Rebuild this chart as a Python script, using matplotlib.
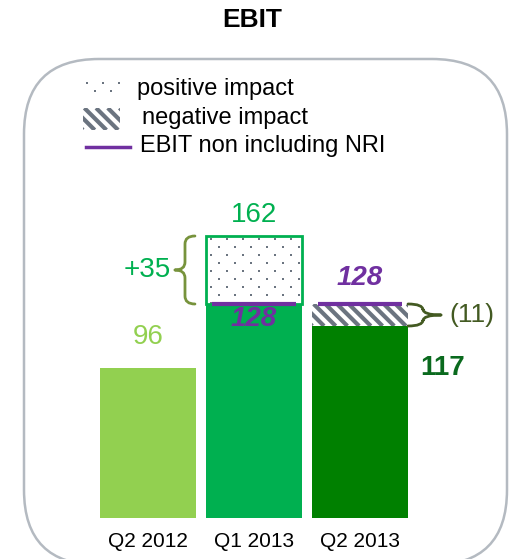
import numpy as np
import matplotlib.pyplot as plt
from matplotlib.patches import FancyBboxPatch, Rectangle, PathPatch
from matplotlib.path import Path
from matplotlib.transforms import IdentityTransform

plt.rcParams['font.family'] = ['Liberation Sans', 'DejaVu Sans']

# EBIT per quarter (reported) and EBIT excluding non-recurring items
quarters = ['Q2 2012', 'Q1 2013', 'Q2 2013']
ebit = [96, 162, 117]
ebit_ex_nri = [None, 128, 128]
nri_labels = [None, '+35', '(11)']

bar_colors = ['#92d050', '#00b050', '#008000']
purple = '#7030a0'
grey = '#6b7480'
olive = '#77933c'
dark_olive = '#435a22'

W, H = 511, 559
fig = plt.figure(figsize=(W / 100, H / 100), dpi=100)


def stripes(axis, patch, step=11.7, lw=3.0, color=grey):
    # back-diagonal stripes in pixel space, clipped to the patch
    bb = patch.get_window_extent()
    h = bb.height
    for k in np.arange(bb.x0 - h, bb.x1 + step, step):
        line, = axis.plot([k, k + h], [bb.y1, bb.y0], color=color, linewidth=lw,
                          transform=IdentityTransform(), solid_capstyle='butt',
                          zorder=patch.get_zorder() + 0.1)
        line.set_clip_path(patch)


def dots(axis, patch, dx=16, dy=8, color=grey):
    # staggered dot grid in pixel space, clipped to the patch
    bb = patch.get_window_extent()
    for j, y in enumerate(np.arange(bb.y1 - 3, bb.y0, -dy)):
        xs = np.arange(bb.x0 + 5 + (dx / 2 if j % 2 else 0), bb.x1, dx)
        line, = axis.plot(xs, np.full(len(xs), y), linestyle='none', marker='s',
                          markersize=2.0, markeredgewidth=0, color=color,
                          transform=IdentityTransform(),
                          zorder=patch.get_zorder() + 0.1)
        line.set_clip_path(patch)


# background layer in pixel units (rounded frame, legend, title)
bg = fig.add_axes([0, 0, 1, 1])
bg.set_xlim(0, W)
bg.set_ylim(H, 0)
bg.axis('off')

frame = FancyBboxPatch((24, 59), 483, 506, boxstyle='round,pad=0,rounding_size=75',
                       facecolor='white', edgecolor='#b4bac1', linewidth=1.8)
bg.add_patch(frame)
bg.text(252, 20, 'EBIT', ha='center', va='center', fontsize=19, fontweight='bold')

# legend
sw_pos = Rectangle((82, 80), 38, 18, facecolor='white', linewidth=0)
bg.add_patch(sw_pos)
dots(bg, sw_pos)
sw_neg = Rectangle((83, 108), 37, 22, facecolor='white', linewidth=0)
bg.add_patch(sw_neg)
stripes(bg, sw_neg)
bg.plot([86, 130], [147, 147], color=purple, linewidth=2.5)
bg.text(137, 89, 'positive impact', va='center', fontsize=17)
bg.text(142, 118, 'negative impact', va='center', fontsize=17)
bg.text(140, 146, 'EBIT non including NRI', va='center', fontsize=17)

# bar layer in data units
ax = fig.add_axes([95 / W, (H - 518) / H, 318 / W, 318 / H])
ax.set_facecolor('none')
ax.set_xlim(-0.5, 2.5)
ax.set_ylim(21, 180)
for s in ax.spines.values():
    s.set_visible(False)
ax.set_yticks([])
x = list(range(len(quarters)))
ax.set_xticks(x, quarters, fontsize=15)
ax.tick_params(axis='x', length=0, pad=10)

base = [v if r is None else min(v, r) for v, r in zip(ebit, ebit_ex_nri)]
ax.bar(x, base, width=0.9, color=bar_colors, zorder=2)

for i, (v, r) in enumerate(zip(ebit, ebit_ex_nri)):
    if r is None:
        continue
    lo, hi = min(v, r), max(v, r)
    box = ax.bar(i, hi - lo, bottom=lo, width=0.9, color='white', linewidth=0,
                 zorder=2)[0]
    if v > r:
        # positive impact: dotted box with green outline
        dots(ax, box)
        ax.bar(i, hi - lo, bottom=lo, width=0.9, fill=False,
               edgecolor=bar_colors[i], linewidth=2, zorder=3)
    else:
        stripes(ax, box)
    ax.hlines(r, i - 0.4, i + 0.4, color=purple, linewidth=3, zorder=4)


def brace(ax, x_end, x_stem, x_tip, y0, y1, r, color):
    ym = (y0 + y1) / 2
    verts = [(x_end, y1), (x_stem, y1), (x_stem, y1 - r),
             (x_stem, ym + r), (x_stem, ym), (x_tip, ym),
             (x_tip, ym), (x_stem, ym), (x_stem, ym - r),
             (x_stem, y0 + r), (x_stem, y0), (x_end, y0)]
    codes = [Path.MOVETO, Path.CURVE3, Path.CURVE3,
             Path.LINETO, Path.CURVE3, Path.CURVE3,
             Path.MOVETO, Path.CURVE3, Path.CURVE3,
             Path.LINETO, Path.CURVE3, Path.CURVE3]
    ax.add_patch(PathPatch(Path(verts, codes), fill=False, edgecolor=color,
                           linewidth=2, capstyle='round', zorder=4, clip_on=False))


# value labels
ax.annotate(str(ebit[0]), (0, ebit[0]), xytext=(0, 22), textcoords='offset points',
            ha='center', va='center', fontsize=20, color=bar_colors[0])
ax.annotate(str(ebit[1]), (1, ebit[1]), xytext=(0, 15), textcoords='offset points',
            ha='center', va='center', fontsize=20, color=bar_colors[1])
ax.annotate(str(ebit_ex_nri[1]), (1, ebit_ex_nri[1]), xytext=(0, -11),
            textcoords='offset points', ha='center', va='center', fontsize=20,
            color=purple, fontweight='bold', fontstyle='italic', zorder=5)
ax.annotate(str(ebit_ex_nri[2]), (2, ebit_ex_nri[2]), xytext=(0, 19),
            textcoords='offset points', ha='center', va='center', fontsize=20,
            color=purple, fontweight='bold', fontstyle='italic')
ax.annotate(str(ebit[2]), (2.78, ebit[2]), xytext=(0, -30), textcoords='offset points',
            ha='center', va='center', fontsize=20, color='#0a6a1e',
            fontweight='bold', annotation_clip=False)

# impact braces
brace(ax, 0.443, 0.349, 0.255, ebit_ex_nri[1], ebit[1], 4, olive)
ax.annotate(nri_labels[1], (0.255, (ebit_ex_nri[1] + ebit[1]) / 2), xytext=(-20, 0),
            textcoords='offset points', ha='center', va='center', fontsize=20,
            color=bar_colors[1])
brace(ax, 2.453, 2.594, 2.764, ebit[2], ebit_ex_nri[2], 3, dark_olive)
ax.annotate(nri_labels[2], (2.764, (ebit[2] + ebit_ex_nri[2]) / 2), xytext=(22, 0),
            textcoords='offset points', ha='center', va='center', fontsize=19,
            color=dark_olive, annotation_clip=False)

fig.savefig('out.png', dpi=100)
